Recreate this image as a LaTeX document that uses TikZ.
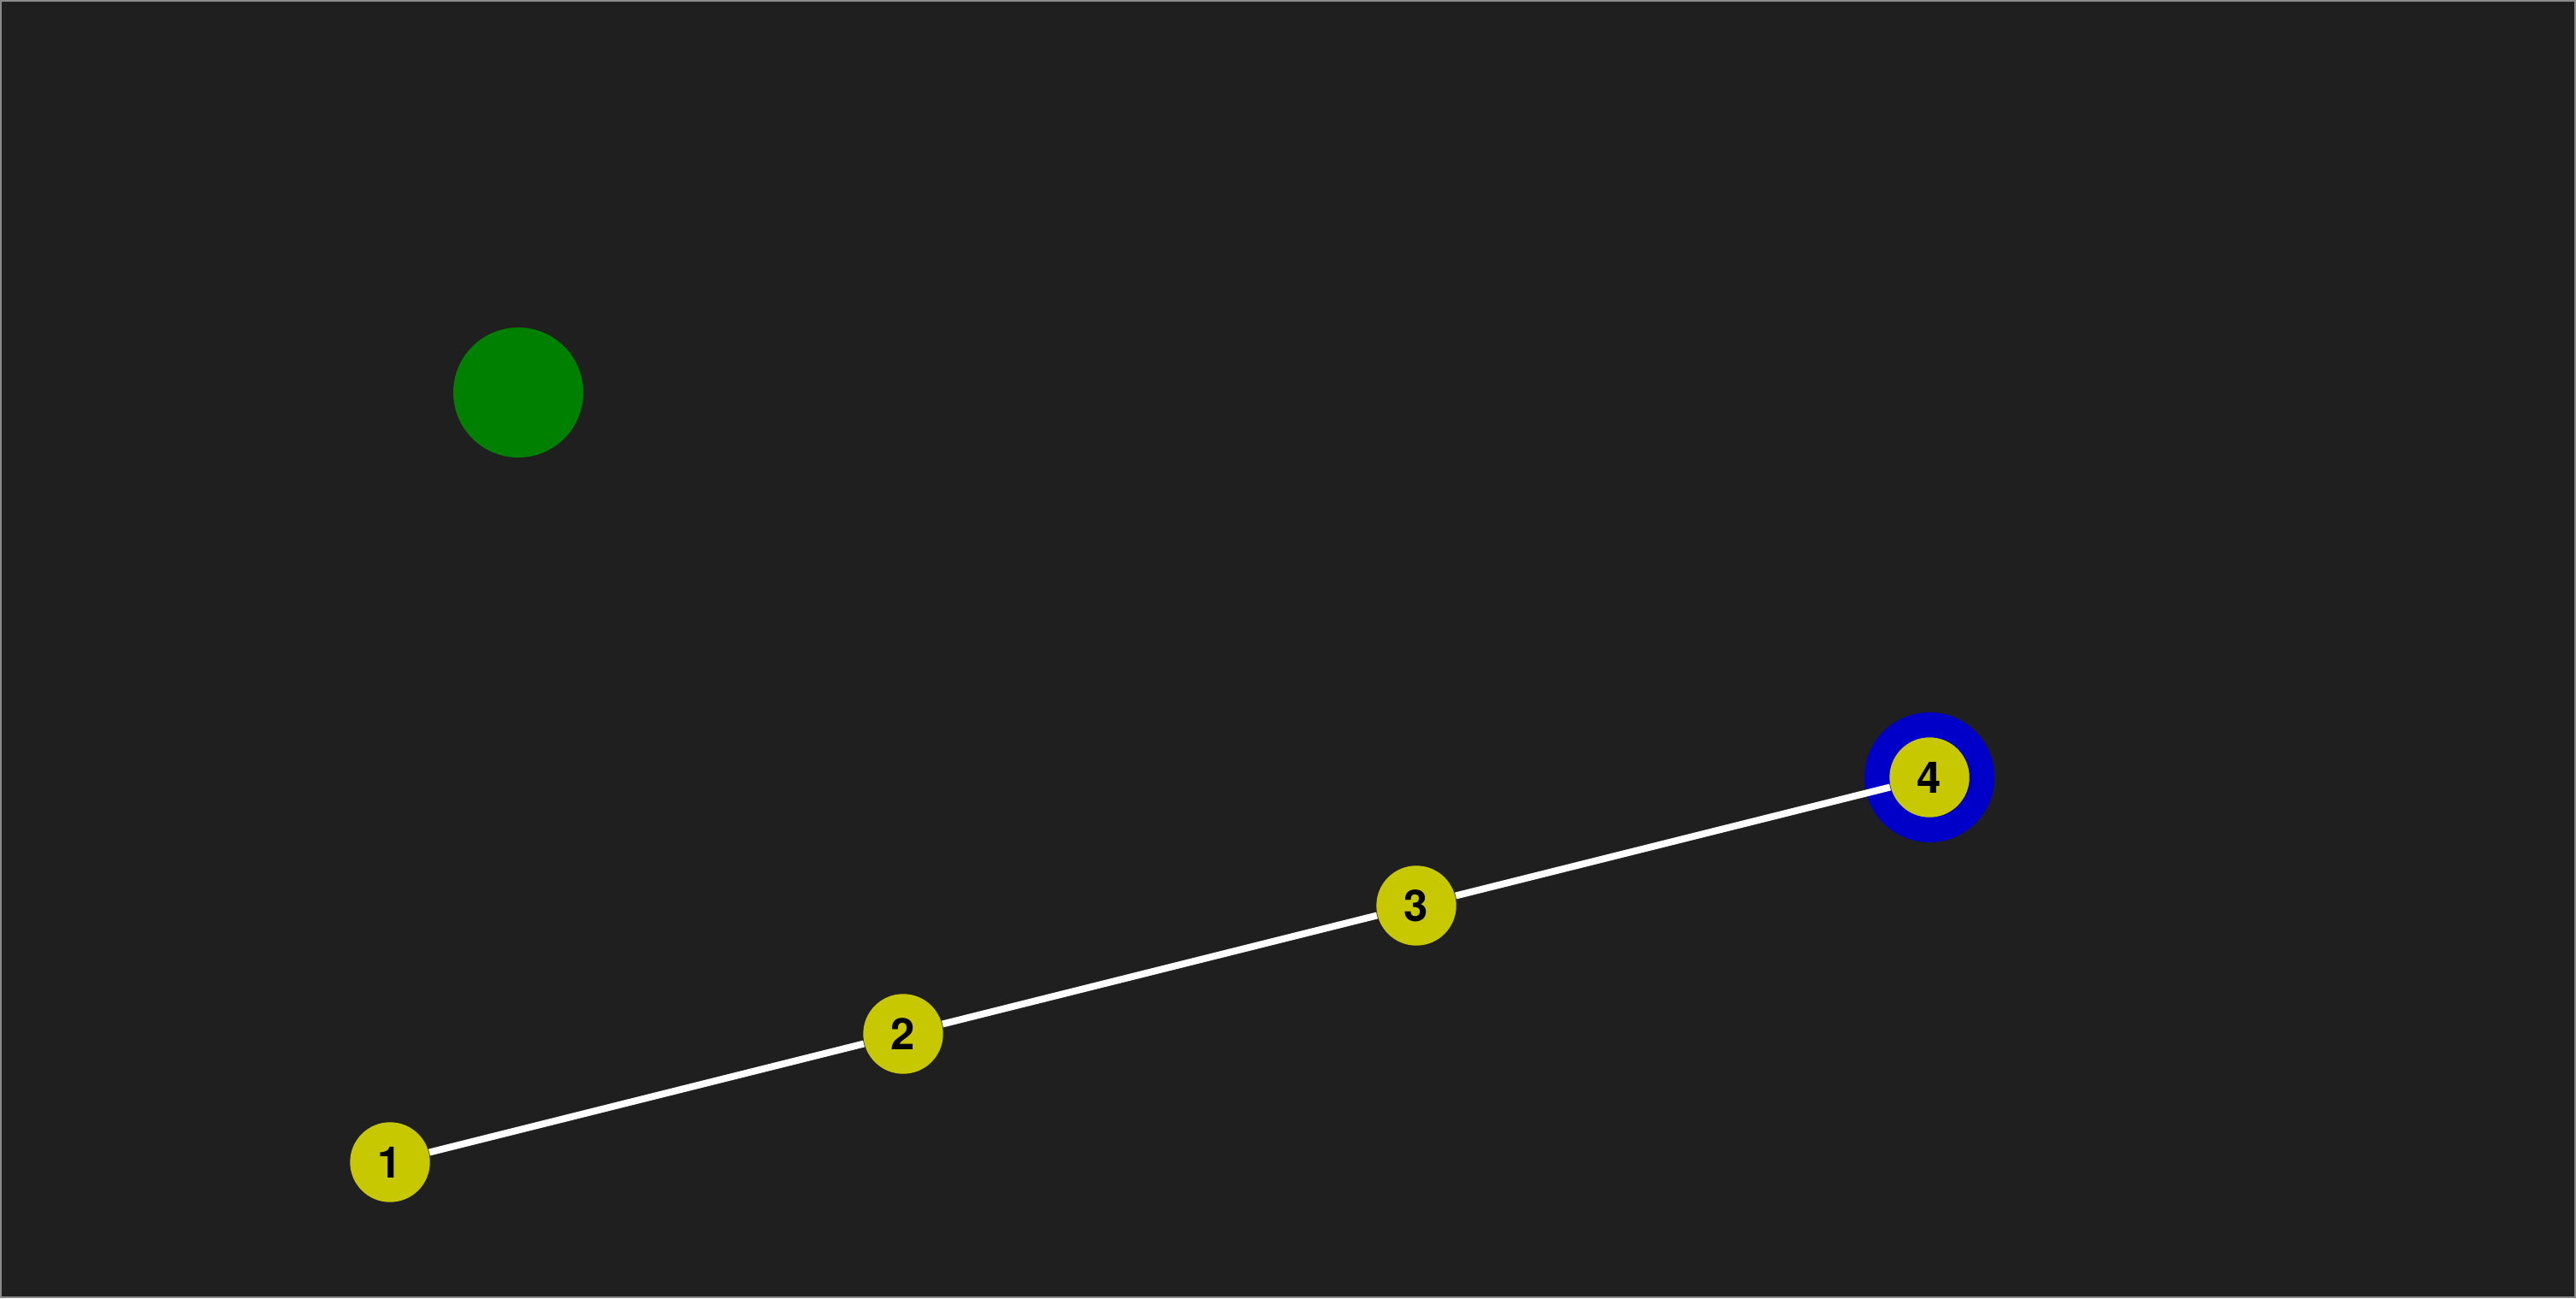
\documentclass[tikz,border=0pt]{standalone}
\usepackage{fontspec}
\setmainfont{TeX Gyre Heros}
\definecolor{bgc}{HTML}{1F1F1F}
\definecolor{framec}{HTML}{8A8A8A}
\definecolor{nodey}{HTML}{C8C800}
\definecolor{ringb}{HTML}{0000C8}
\definecolor{greenc}{HTML}{008000}
\begin{document}
\begin{tikzpicture}[
  vertex/.style={circle, fill=nodey, draw=none, minimum size=0.934cm, inner sep=0pt,
    font=\fontsize{14.5}{17}\selectfont\bfseries, text=black},
  edge/.style={draw=white, line width=0.08cm},
  ring/.style={circle, fill=ringb, draw=none, minimum size=1.52cm, inner sep=0pt},
  blob/.style={circle, fill=greenc, draw=none, minimum size=1.52cm, inner sep=0pt}
]
\useasboundingbox (0,0) rectangle (30.12,15.18);
\fill[bgc] (0,0) rectangle (30.12,15.18);
\draw[framec, line width=0.02cm] (0.01,0.01) rectangle (30.11,15.17);
\node[blob] (g) at (6.06,10.59) {};
\node[ring] (r4) at (22.56,6.09) {};
\node[vertex] (n1) at (4.56,1.59) {1};
\node[vertex] (n2) at (10.56,3.09) {2};
\node[vertex] (n3) at (16.56,4.59) {3};
\node[vertex] (n4) at (22.56,6.09) {4};
\draw[edge] (n1) -- (n2);
\draw[edge] (n2) -- (n3);
\draw[edge] (n3) -- (n4);
\end{tikzpicture}
\end{document}
